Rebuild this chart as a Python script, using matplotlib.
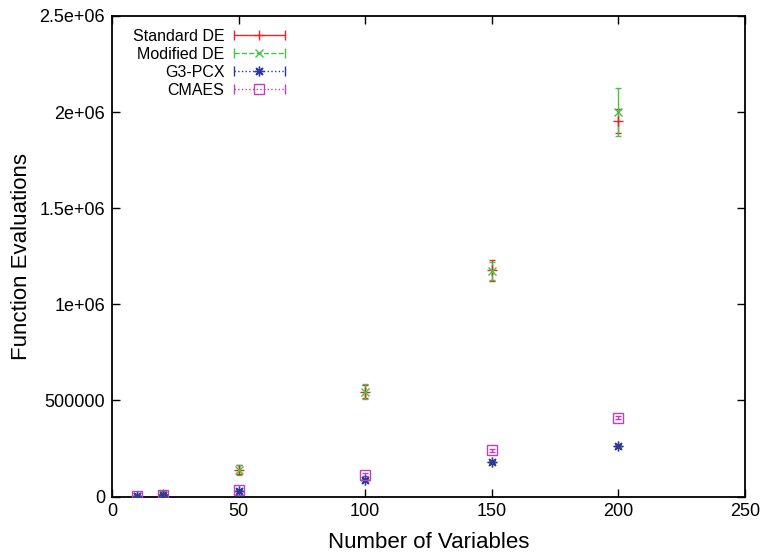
import matplotlib
matplotlib.use('Agg')
import matplotlib.pyplot as plt
from matplotlib.lines import Line2D
from matplotlib.legend_handler import HandlerBase

plt.rcParams['font.family'] = ['Liberation Sans', 'DejaVu Sans']

# data
n_vars = [10, 20, 50, 100, 150, 200]

std_de = [3000, 12000, 139000, 546000, 1176000, 1955000]
std_de_err = [2000, 15000, 23000, 35000, 54000, 63000]

mod_de = [3000, 13000, 137000, 546000, 1174000, 2000000]
mod_de_err = [2000, 16000, 25000, 38000, 45000, 126000]

g3pcx = [2000, 6000, 30000, 88000, 180000, 265000]
g3pcx_err = [500, 1000, 2000, 3000, 4000, 5000]

cmaes = [3000, 8000, 32000, 114000, 241000, 409000]
cmaes_err = [1000, 2000, 4000, 6000, 8000, 8000]

yticks = [0, 500000, 1000000, 1500000, 2000000, 2500000]
ytick_labels = ['0', '500000', '1e+06', '1.5e+06', '2e+06', '2.5e+06']
xticks = [0, 50, 100, 150, 200, 250]

series = [
    ('Standard DE', std_de, std_de_err, '#e8262a', '+', '-', 7),
    ('Modified DE', mod_de, mod_de_err, '#44c444', 'x', '--', 6),
    ('G3-PCX', g3pcx, g3pcx_err, '#2a3b9e', (8, 2, 0), ':', 7),
    ('CMAES', cmaes, cmaes_err, '#c040b8', 's', ':', 7),
]


class GnuplotKey(HandlerBase):
    # gnuplot-style key sample: line with caps at both ends, point in the middle
    def create_artists(self, legend, h, xdescent, ydescent, width, height,
                       fontsize, trans):
        x0, x1 = -xdescent, -xdescent + width
        y = (height - ydescent) / 2
        col = h.get_color()
        line = Line2D([x0, x1], [y, y], color=col, linestyle=h.get_linestyle(),
                      linewidth=1.0)
        caps = Line2D([x0, x1], [y, y], linestyle='none', marker='|',
                      markersize=7, markeredgewidth=1.0, color=col)
        mid = Line2D([(x0 + x1) / 2], [y], linestyle='none', marker=h.get_marker(),
                     markersize=h.get_markersize(), markerfacecolor=h.get_markerfacecolor(),
                     markeredgecolor=col, markeredgewidth=1.0)
        for a in (line, caps, mid):
            a.set_transform(trans)
        return [line, caps, mid]


fig = plt.figure(figsize=(7.63, 5.57), dpi=100)
ax = fig.add_axes([0.1468, 0.1086, 0.8296, 0.8627])

handles = []
for name, vals, err, col, mk, ls, ms in series:
    fc = 'none' if mk == 's' else col
    ax.errorbar(n_vars, vals, yerr=err, fmt='none', ecolor=col, elinewidth=1.0,
                capsize=2.5, capthick=1.0, zorder=3)
    ax.plot(n_vars, vals, linestyle='none', marker=mk, markersize=ms,
            markerfacecolor=fc, markeredgecolor=col, markeredgewidth=1.0, zorder=4)
    handles.append(Line2D([], [], color=col, linestyle=ls, marker=mk,
                          markersize=ms, markerfacecolor=fc))

labels = [s[0] for s in series]
leg = ax.legend(handles, labels, handler_map={Line2D: GnuplotKey()},
                loc='upper right', bbox_to_anchor=(285 / 763, 1 - 29 / 557),
                bbox_transform=fig.transFigure, frameon=False, markerfirst=False,
                fontsize=11.5, handlelength=3.2, handletextpad=0.6,
                labelspacing=0.18, borderpad=0, borderaxespad=0)

ax.set_xlim(0, 250)
ax.set_ylim(0, 2500000)
ax.set_xticks(xticks)
ax.set_yticks(yticks)
ax.set_yticklabels(ytick_labels)
ax.tick_params(direction='in', length=6, width=1.0, top=True, right=True,
               labelsize=13, pad=5)
for sp in ax.spines.values():
    sp.set_linewidth(1.3)

ax.set_xlabel('Number of Variables', fontsize=16, labelpad=8)
ax.set_ylabel('Function Evaluations', fontsize=16, labelpad=5)

plt.savefig('out.png', dpi=100)
